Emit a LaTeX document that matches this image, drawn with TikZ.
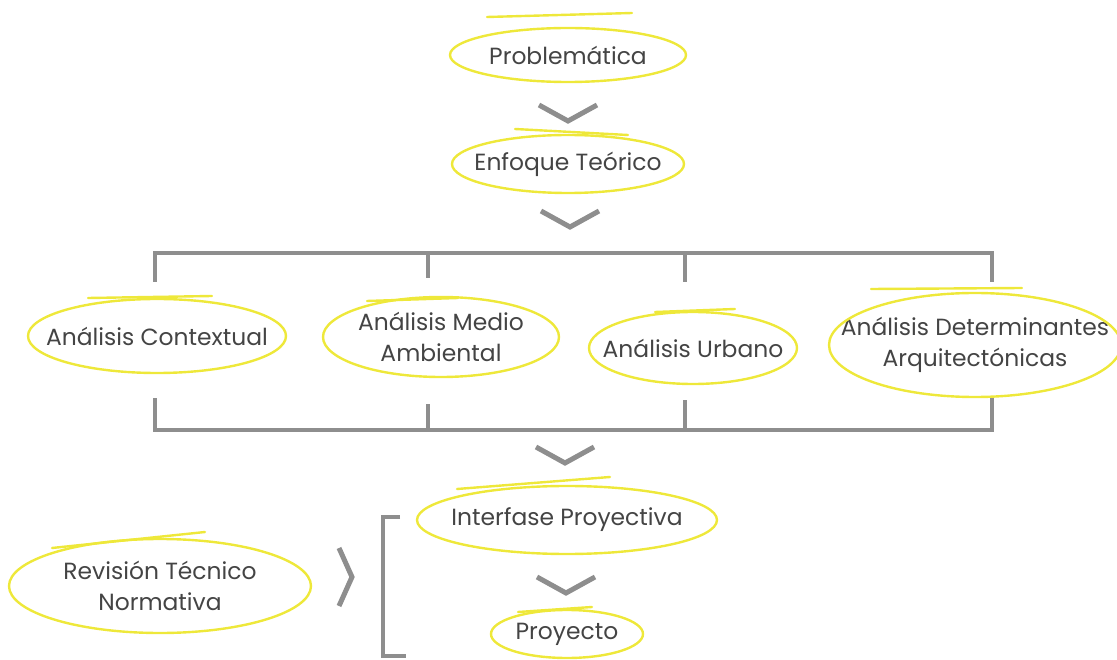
\documentclass[tikz,border=0pt]{standalone}
\usepackage{fontspec}
\setmainfont{Poppins}
\usetikzlibrary{shapes.geometric,calc}
\definecolor{yel}{HTML}{EEE83A}
\definecolor{gry}{HTML}{8E8E8E}
\definecolor{txt}{HTML}{444444}
\tikzset{
  lab/.style={inner sep=0pt, text=txt,
    font=\fontsize{23.4}{31.5}\selectfont, align=center},
  ring/.style={draw=yel, line width=2.4pt},
  swoosh/.style={draw=yel, line width=2.4pt, line cap=round},
  chev/.style={draw=gry, line width=5pt},
  brk/.style={draw=gry, line width=4pt},
}
\newcommand{\chevdown}[1]{\draw[chev] ($(#1)+(-29,-16)$) -- (#1) -- ($(#1)+(29,-16)$);}
\newcommand{\myring}[3]{\draw[ring] (#1.center) ellipse [x radius=#2pt, y radius=#3pt];}
\begin{document}
\begin{tikzpicture}[x=1pt,y=-1pt]
\useasboundingbox (0,0) rectangle (1117,660);
% nodes
\node[lab] (prob) at (568,55) {Problemática};
\node[lab] (enf) at (568,164) {Enfoque Teórico};
\node[lab] (ac) at (157,336) {Análisis Contextual};
\node[lab] (am) at (441,337) {Análisis Medio\\Ambiental};
\node[lab] (au) at (693,348) {Análisis Urbano};
\node[lab] (ad) at (975,345) {Análisis Determinantes\\Arquitectónicas};
\node[lab] (ip) at (567,520) {Interfase Proyectiva};
\node[lab] (pr) at (567,634) {Proyecto};
\node[lab] (rt) at (160,586) {Revisión Técnico\\Normativa};
% ellipses
\myring{prob}{118}{27}
\myring{enf}{116}{29}
\myring{ac}{129}{37}
\myring{am}{118}{40}
\myring{au}{104}{36}
\myring{ad}{146}{52}
\myring{ip}{150}{34}
\myring{pr}{76}{24}
\myring{rt}{151}{47}
% swooshes
\draw[swoosh] (487,17) -- (632,13);
\draw[swoosh] (515,129) -- (628,135);
\draw[swoosh] (88,298) -- (212,296);
\draw[swoosh] (367,301) -- (458,298);
\draw[swoosh] (655,312) -- (735,309);
\draw[swoosh] (871,289) -- (1022,288);
\draw[swoosh] (457,489) -- (610,477);
\draw[swoosh] (518,612) -- (592,607);
\draw[swoosh] (52,548) -- (205,532);
% chevrons
\coordinate (c1) at (568,121);
\coordinate (c2) at (570,227);
\coordinate (c3) at (565,463);
\coordinate (c4) at (566,593);
\chevdown{c1}
\chevdown{c2}
\chevdown{c3}
\chevdown{c4}
\coordinate (cr) at (352,577);
\draw[chev] ($(cr)+(-13,-29)$) -- (cr) -- ($(cr)+(-13,29)$);
% top bracket
\coordinate (t1) at (155,253); \coordinate (t2) at (428,253);
\coordinate (t3) at (685,253); \coordinate (t4) at (992,253);
\draw[brk] ($(t1)+(0,29)$) -- (t1) -- (t4) -- ($(t4)+(0,29)$);
\draw[brk] (t2) -- ($(t2)+(0,25)$);
\draw[brk] (t3) -- ($(t3)+(0,29)$);
% bottom bracket
\coordinate (b1) at (155,430); \coordinate (b2) at (428,430);
\coordinate (b3) at (685,430); \coordinate (b4) at (992,430);
\draw[brk] ($(b1)+(0,-32)$) -- (b1) -- (b4) -- ($(b4)+(0,-32)$);
\draw[brk] (b2) -- ($(b2)+(0,-26)$);
\draw[brk] (b3) -- ($(b3)+(0,-30)$);
% left square bracket
\coordinate (s1) at (383,517); \coordinate (s2) at (383,656);
\draw[brk] (400,517) -- (s1) -- (s2) -- (406,656);
\end{tikzpicture}
\end{document}
